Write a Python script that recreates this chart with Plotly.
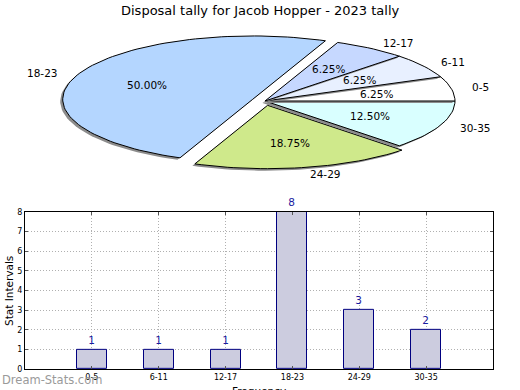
import math
import plotly.graph_objects as go

# ---------------- data ----------------
categories = ["0-5", "6-11", "12-17", "18-23", "24-29", "30-35"]
tally = [1, 1, 1, 8, 3, 2]
title_text = "Disposal tally for Jacob Hopper - 2023 tally"
x_title = "Frequency"
y_title = "Stat Intervals"
watermark = "Dream-Stats.com"

# ---------------- styles ----------------
pie_colors = ["#ffffff", "#e8f0ff", "#c6d8ff", "#b4d6ff", "#cfe98b", "#d9ffff"]
explode = [0, 0, 0, 0.07, 0.07, 0]
draw_order = [5, 0, 1, 2, 3, 4]
bar_fill = "#ccccdf"
bar_edge = "#000080"
FONT = "DejaVu Sans"

W, H = 520, 390          # reference pixel grid
PAGE_H = 395             # page height actually rendered
# pie axes pixel mapping: centre (265, 98), rx 190 px, ry 64 px
PCX, PCY, RX, RY = 265, 98, 190, 64
PIE_TOP, PIE_BOT = 0, 200

fig = go.Figure()

total = sum(tally)
fracs = [v / total for v in tally]
shadow_dx, shadow_dy = -2.5 / RX, -2.0 / RY

angles = []
acc = 0.0
for f in fracs:
    angles.append((acc * 360, (acc + f) * 360))
    acc += f


def wedge(i, dx=0.0, dy=0.0):
    t1, t2 = angles[i]
    mid = math.radians((t1 + t2) / 2)
    ex = explode[i] * math.cos(mid) + dx
    ey = explode[i] * math.sin(mid) + dy
    n = max(4, int(abs(t2 - t1) / 2))
    xs, ys = [ex], [ey]
    for k in range(n + 1):
        t = math.radians(t1 + (t2 - t1) * k / n)
        xs.append(ex + math.cos(t))
        ys.append(ey + math.sin(t))
    xs.append(ex)
    ys.append(ey)
    return xs, ys


for i in draw_order:
    sx, sy = wedge(i, shadow_dx, shadow_dy)
    fig.add_trace(go.Scatter(x=sx, y=sy, mode="lines", fill="toself",
                             fillcolor="#8c8c8c", line=dict(width=0),
                             hoverinfo="skip", showlegend=False,
                             xaxis="x", yaxis="y"))
    wx, wy = wedge(i)
    fig.add_trace(go.Scatter(x=wx, y=wy, mode="lines", fill="toself",
                             fillcolor=pie_colors[i],
                             line=dict(color="black", width=1),
                             name=categories[i], showlegend=False,
                             xaxis="x", yaxis="y"))

annotations = []
for i, cat in enumerate(categories):
    t1, t2 = angles[i]
    mid = math.radians((t1 + t2) / 2)
    ex = explode[i] * math.cos(mid)
    ey = explode[i] * math.sin(mid)
    xt = ex + 1.1 * math.cos(mid)
    yt = ey + 1.1 * math.sin(mid)
    annotations.append(dict(x=xt, y=yt, xref="x", yref="y", text=cat,
                            showarrow=False,
                            xanchor="left" if xt > 0 else "right",
                            yanchor="middle",
                            font=dict(family=FONT, size=10.5, color="black")))
    xp = ex + 0.6 * math.cos(mid)
    yp = ey + 0.6 * math.sin(mid)
    annotations.append(dict(x=xp, y=yp, xref="x", yref="y",
                            text="%.2f%%" % (fracs[i] * 100),
                            showarrow=False, xanchor="center", yanchor="middle",
                            font=dict(family=FONT, size=10.5, color="black")))

# ---------------- bar chart ----------------
fig.add_trace(go.Bar(x=categories, y=tally, width=0.45,
                     marker=dict(color=bar_fill, line=dict(color=bar_edge, width=1)),
                     text=[str(v) for v in tally], textposition="outside",
                     textfont=dict(family=FONT, size=10.5, color="#1a1aa0"),
                     cliponaxis=False, showlegend=False,
                     xaxis="x2", yaxis="y2"))

# title
annotations.append(dict(x=0.5, y=1 - 7 / H, xref="paper", yref="paper",
                        text=title_text, showarrow=False,
                        xanchor="center", yanchor="middle",
                        font=dict(family=FONT, size=13, color="black")))
# axis titles
annotations.append(dict(x=9 / W, y=1 - 290 / H, xref="paper", yref="paper",
                        text=y_title, textangle=-90, showarrow=False,
                        xanchor="center", yanchor="middle",
                        font=dict(family=FONT, size=10.5, color="black")))
annotations.append(dict(x=259 / W, y=1 - 391 / H, xref="paper", yref="paper",
                        text=x_title, showarrow=False,
                        xanchor="center", yanchor="middle",
                        font=dict(family=FONT, size=10.5, color="black")))
# watermark
annotations.append(dict(x=0, y=1 - 380 / H, xref="paper", yref="paper",
                        text=watermark, showarrow=False,
                        xanchor="left", yanchor="middle",
                        font=dict(family=FONT, size=11.5, color="#9a9a9a")))

grid_common = dict(showline=True, linecolor="black", linewidth=1,
                   mirror="ticks", ticks="inside", ticklen=3, tickcolor="#555",
                   showgrid=True, gridcolor="#b0b0b0", griddash="1px,2px",
                   gridwidth=1, tickfont=dict(family=FONT, size=8, color="black"),
                   zeroline=False)

fig.update_layout(
    width=W, height=PAGE_H,
    margin=dict(l=0, r=0, t=0, b=0),
    paper_bgcolor="white", plot_bgcolor="white",
    font=dict(family=FONT, size=8, color="black"),
    xaxis=dict(domain=[0, 1], range=[-PCX / RX, (W - PCX) / RX],
               visible=False, fixedrange=True),
    yaxis=dict(domain=[1 - PIE_BOT / H, 1 - PIE_TOP / H],
               range=[(PCY - PIE_BOT) / RY, (PCY - PIE_TOP) / RY],
               visible=False, fixedrange=True),
    xaxis2=dict(domain=[25 / W, 493 / W], anchor="y2", type="category",
                range=[-1, 6], **grid_common),
    yaxis2=dict(domain=[1 - 369 / H, 1 - 210 / H], anchor="x2",
                range=[0, 8], dtick=1, **grid_common),
    annotations=annotations,
    bargap=0,
)

post = (
    "document.documentElement.style.margin='0';"
    "document.documentElement.style.padding='0';"
    "document.documentElement.style.overflow='hidden';"
    "document.body.style.margin='0';"
    "document.body.style.padding='0';"
    "document.body.style.overflow='hidden';"
)

fig.write_html("out.html", config={"displayModeBar": False},
               post_script=post)
